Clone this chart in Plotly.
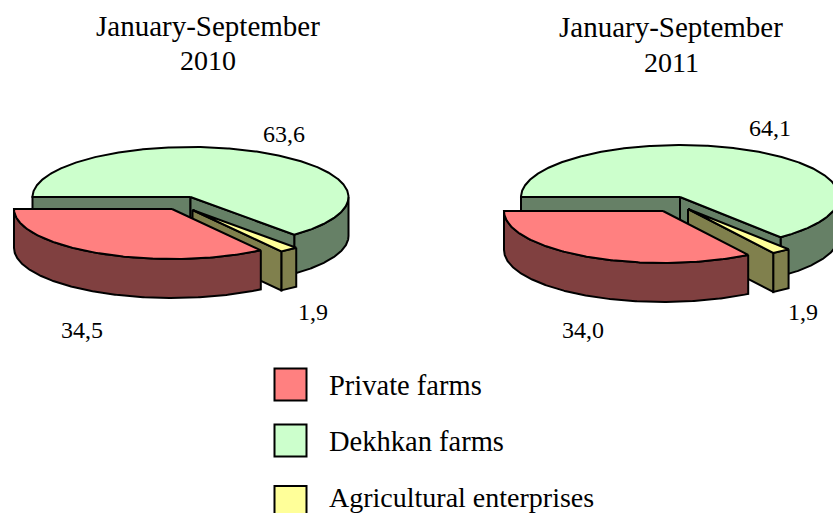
import numpy as np
import plotly.graph_objects as go

# Data
categories = ["Dekhkan farms", "Agricultural enterprises", "Private farms"]
legend_order = ["Private farms", "Dekhkan farms", "Agricultural enterprises"]
values_2010 = [63.6, 1.9, 34.5]
values_2011 = [64.1, 1.9, 34.0]
labels_2010 = ["63,6", "1,9", "34,5"]
labels_2011 = ["64,1", "1,9", "34,0"]
top_colors = {"Dekhkan farms": "#CCFFCC", "Agricultural enterprises": "#FFFF99", "Private farms": "#FF8080"}
side_colors = {"Dekhkan farms": "#668066", "Agricultural enterprises": "#80804D", "Private farms": "#804040"}

FONT = "Liberation Serif"
LINE = dict(color="black", width=2)

fig = go.Figure()


def poly(xs, ys, color, name):
    fig.add_trace(go.Scatter(x=xs, y=ys, mode="lines", fill="toself", fillcolor=color, line=LINE,
                             name=name, showlegend=False, hoverinfo="name"))


def arc(c, rx, ry, a0, a1):
    t = np.radians(np.linspace(a0, a1, max(2, int(abs(a1 - a0)) * 2)))
    return c[0] + rx * np.cos(t), c[1] + ry * np.sin(t)


def pie(values, rx, ry, depth, centers):
    # Each slice runs clockwise on screen from the west point, in the order of `categories`.
    a = 180.0
    spans = []
    for v in values:
        a1 = a + 360 * v / sum(values)
        spans.append((a, a1))
        a = a1
    for name, (a0, a1) in zip(categories, spans):
        c = centers[name]
        top, side = top_colors[name], side_colors[name]
        # outer wall: only the part in the front half of the ellipse
        lo, hi = max(a0, 360), min(a1, 540)
        if hi > lo:
            x, y = arc(c, rx, ry, lo, hi)
            poly(np.r_[x, x[::-1], x[0]], np.r_[y, y[::-1] + depth, y[0]], side, name)
        # inner walls that face the viewer
        walls = []
        if 90 < a0 % 360 <= 180:
            walls.append(a0)
        if a1 % 360 < 90:
            walls.append(a1)
        for ang in walls:
            ex = c[0] + rx * np.cos(np.radians(ang))
            ey = c[1] + ry * np.sin(np.radians(ang))
            poly([c[0], ex, ex, c[0], c[0]], [c[1], ey, ey + depth, c[1] + depth, c[1]], side, name)
        # top face
        x, y = arc(c, rx, ry, a0, a1)
        poly(np.r_[c[0], x, c[0]], np.r_[c[1], y, c[1]], top, name)


pie(values_2010, 158, 50, 39, {
    "Dekhkan farms": (190.5, 197), "Agricultural enterprises": (192.5, 210), "Private farms": (172, 209)})
pie(values_2011, 159, 52, 39, {
    "Dekhkan farms": (680, 197), "Agricultural enterprises": (688, 209), "Private farms": (663, 211)})

# Legend keys
for name, yc in zip(legend_order, (384.5, 440.5, 502)):
    fig.add_trace(go.Scatter(x=[290.5], y=[yc], mode="markers", showlegend=False, hoverinfo="name", name=name,
                             marker=dict(symbol="square", size=32, color=top_colors[name], line=LINE)))


def txt(x, y, s, size=24, anchor="center"):
    fig.add_annotation(x=x, y=y, text=s, showarrow=False, xanchor=anchor, yanchor="middle",
                       font=dict(family=FONT, size=size, color="black"))


txt(208, 26, "January-September", 29)
txt(208, 60, "2010", 28)
txt(671, 27, "January-September", 29)
txt(671, 62, "2011", 28)
txt(284, 134, labels_2010[0])
txt(313, 312, labels_2010[1])
txt(82, 330, labels_2010[2])
txt(770, 128, labels_2011[0])
txt(803, 312, labels_2011[1])
txt(583, 330, labels_2011[2])
for name, yc in zip(legend_order, (385, 441, 497)):
    txt(326.5, yc, name, 28.5 if name != "Agricultural enterprises" else 28, "left")

fig.update_layout(
    width=833, height=513, margin=dict(l=0, r=0, t=0, b=0), paper_bgcolor="white", plot_bgcolor="white",
    xaxis=dict(range=[0, 833], visible=False, fixedrange=True),
    yaxis=dict(range=[513, 0], visible=False, fixedrange=True),
)
fig.write_html("out.html", config={"displayModeBar": False},
               post_script="document.body.style.margin='0';document.body.style.overflow='hidden';")
